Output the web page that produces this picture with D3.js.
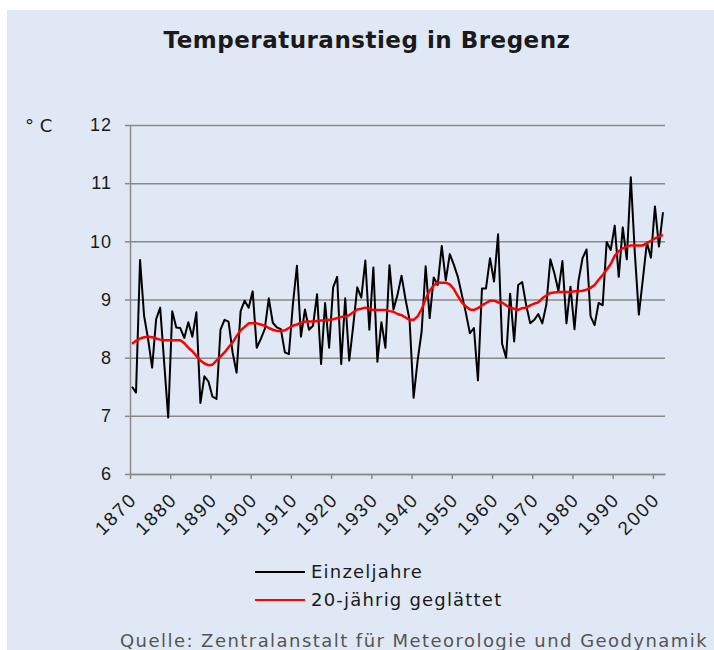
<!DOCTYPE html>
<html>
<head>
<meta charset="utf-8">
<script src="https://cdn.jsdelivr.net/npm/d3@7"></script>
<style>
  body { margin: 0; background: #fff; }
  svg { display: block; font-family: "DejaVu Sans", Verdana, sans-serif; }
</style>
</head>
<body>
<svg id="chart"></svg>
<script>
// Jahre 1870 - 2002
const years = d3.range(1870, 2003);
const decades = d3.range(1870, 2001, 10);
const yTicks = [6, 7, 8, 9, 10, 11, 12];

// Jahresmittel (Einzeljahre)
const einzel = [
  7.50, 7.40, 9.68, 8.72, 8.32, 7.83, 8.66, 8.86, 7.91, 6.97,
  8.80, 8.52, 8.51, 8.34, 8.61, 8.36, 8.78, 7.22, 7.68, 7.59,
  7.33, 7.29, 8.48, 8.65, 8.62, 8.09, 7.74, 8.80, 8.98, 8.86,
  9.14, 8.17, 8.32, 8.49, 9.02, 8.60, 8.52, 8.49, 8.09, 8.06,
  8.92, 9.58, 8.36, 8.83, 8.48, 8.55, 9.09, 7.89, 8.94, 8.17,
  9.21, 9.39, 7.89, 9.02, 7.95, 8.55, 9.21, 9.03, 9.67, 8.48,
  9.55, 7.93, 8.61, 8.17, 9.59, 8.83, 9.08, 9.41, 9.00, 8.65,
  7.31, 7.95, 8.45, 9.57, 8.68, 9.38, 9.25, 9.92, 9.33, 9.78,
  9.60, 9.39, 9.08, 8.77, 8.42, 8.51, 7.61, 9.19, 9.19, 9.71,
  9.31, 10.12, 8.24, 8.00, 9.10, 8.28, 9.25, 9.30, 8.90, 8.59,
  8.65, 8.75, 8.59, 8.91, 9.69, 9.45, 9.15, 9.66, 8.59, 9.22,
  8.49, 9.32, 9.71, 9.86, 8.71, 8.56, 8.94, 8.90, 9.99, 9.85,
  10.27, 9.39, 10.24, 9.69, 11.10, 9.80, 8.74, 9.35, 9.98, 9.72,
  10.60, 9.91, 10.50
];

// 20-jährig geglättet
const geglaettet = [
  8.24, 8.29, 8.33, 8.35, 8.36, 8.35, 8.33, 8.31, 8.30, 8.30,
  8.30, 8.30, 8.30, 8.25, 8.17, 8.11, 8.03, 7.95, 7.90, 7.87,
  7.88, 7.95, 8.02, 8.09, 8.18, 8.26, 8.37, 8.47, 8.53, 8.59,
  8.59, 8.59, 8.57, 8.55, 8.51, 8.48, 8.46, 8.46, 8.47, 8.51,
  8.55, 8.57, 8.60, 8.62, 8.62, 8.62, 8.63, 8.64, 8.64, 8.65,
  8.66, 8.68, 8.70, 8.71, 8.73, 8.78, 8.83, 8.84, 8.86, 8.84,
  8.82, 8.82, 8.82, 8.82, 8.80, 8.79, 8.75, 8.73, 8.69, 8.65,
  8.65, 8.71, 8.83, 9.01, 9.15, 9.24, 9.29, 9.29, 9.29, 9.26,
  9.18, 9.06, 8.95, 8.88, 8.83, 8.82, 8.85, 8.90, 8.94, 8.98,
  8.98, 8.95, 8.95, 8.90, 8.86, 8.84, 8.82, 8.85, 8.86, 8.90,
  8.93, 8.95, 9.02, 9.07, 9.11, 9.12, 9.13, 9.13, 9.13, 9.13,
  9.14, 9.14, 9.15, 9.17, 9.20, 9.25, 9.34, 9.42, 9.51, 9.61,
  9.75, 9.83, 9.88, 9.91, 9.93, 9.93, 9.93, 9.93, 9.97, 10.01,
  10.05, 10.08, 10.11
];

const W = 714, H = 650;
const svg = d3.select("#chart").attr("width", W).attr("height", H);

// Hintergrund
svg.append("rect")
  .attr("x", 7).attr("y", 10)
  .attr("width", W - 7).attr("height", H - 10)
  .attr("fill", "#dfe8f4");

// Skalen: Kategorie-Achse, Punkte in der Mitte jedes Jahres
const x = d3.scaleLinear().domain([1870, 2003]).range([130, 665]);
const y = d3.scaleLinear().domain([6, 12]).range([474, 125]);

const gridColor = "#8a8a8a";
const textColor = "#1a1a1a";

// Gitterlinien
svg.append("g")
  .attr("transform", "translate(130,0)")
  .call(d3.axisLeft(y).tickValues(yTicks).tickSize(-535).tickFormat(""))
  .call(g => g.select(".domain").remove())
  .call(g => g.selectAll("line").attr("stroke", gridColor).attr("stroke-width", 1.5));

// y-Achse
svg.append("g")
  .attr("transform", "translate(130,0)")
  .call(d3.axisLeft(y).tickValues(yTicks).tickFormat(d3.format("d"))
    .tickSize(5).tickPadding(13).tickSizeOuter(0))
  .call(g => g.select(".domain").attr("stroke", gridColor).attr("stroke-width", 1.5))
  .call(g => g.selectAll("line").attr("stroke", gridColor).attr("stroke-width", 1.5))
  .call(g => g.selectAll("text")
    .style("font-size", "18px")
    .style("letter-spacing", "1px")
    .attr("fill", textColor));

svg.append("text")
  .attr("x", 25).attr("y", 132)
  .style("font-size", "18px")
  .attr("fill", textColor)
  .text("° C");

// x-Achse
svg.append("g")
  .attr("transform", "translate(0,474)")
  .call(d3.axisBottom(x).tickValues(decades).tickSize(5)
    .tickFormat(d3.format("d")).tickSizeOuter(0))
  .call(g => g.select(".domain").attr("stroke", gridColor).attr("stroke-width", 1.5))
  .call(g => g.selectAll("line").attr("stroke", gridColor).attr("stroke-width", 1.5))
  .call(g => g.selectAll("text")
    .style("font-size", "19px")
    .style("letter-spacing", "2px")
    .attr("fill", textColor)
    .attr("text-anchor", "end")
    .attr("dy", "0.35em")
    .attr("transform", "translate(3,22) rotate(-45)")
    .attr("x", 0).attr("y", 0));

// Linien
const line = d3.line()
  .x((d, i) => x(years[i] + 0.5))
  .y(d => y(d));

svg.append("path")
  .datum(einzel)
  .attr("fill", "none")
  .attr("stroke", "#000")
  .attr("stroke-width", 2)
  .attr("stroke-linejoin", "round")
  .attr("d", line);

svg.append("path")
  .datum(geglaettet)
  .attr("fill", "none")
  .attr("stroke", "#ff0000")
  .attr("stroke-width", 2.5)
  .attr("stroke-linejoin", "round")
  .attr("d", line);

// Titel
svg.append("text")
  .attr("x", 367).attr("y", 48)
  .attr("text-anchor", "middle")
  .style("font-size", "23px")
  .style("font-weight", "bold")
  .style("letter-spacing", "0.5px")
  .attr("fill", textColor)
  .text("Temperaturanstieg in Bregenz");

// Legende
const legend = [
  { name: "Einzeljahre", color: "#000", y: 572 },
  { name: "20-jährig geglättet", color: "#ff0000", y: 600 }
];
const lg = svg.selectAll(".legend")
  .data(legend)
  .enter()
  .append("g")
  .attr("transform", d => `translate(255, ${d.y})`);
lg.append("line")
  .attr("x1", 0).attr("x2", 50)
  .attr("stroke", d => d.color)
  .attr("stroke-width", 2);
lg.append("text")
  .attr("x", 56).attr("dy", "0.35em")
  .style("font-size", "18px")
  .style("letter-spacing", "1.2px")
  .attr("fill", textColor)
  .text(d => d.name);

// Quelle
svg.append("text")
  .attr("x", 120).attr("y", 647)
  .style("font-size", "18px")
  .style("letter-spacing", "1.45px")
  .attr("fill", "#555")
  .text("Quelle: Zentralanstalt für Meteorologie und Geodynamik");
</script>
</body>
</html>
